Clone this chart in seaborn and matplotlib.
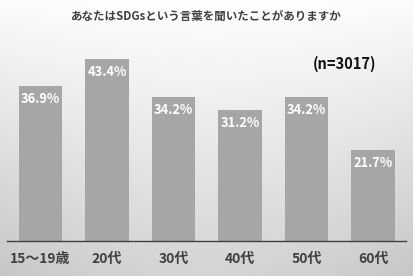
import numpy as np
import pandas as pd
import matplotlib
matplotlib.use("Agg")
import matplotlib.pyplot as plt
import seaborn as sns

categories = ["15～19歳", "20代", "30代", "40代", "50代", "60代"]
values = [36.9, 43.4, 34.2, 31.2, 34.2, 21.7]
value_labels = ["36.9%", "43.4%", "34.2%", "31.2%", "34.2%", "21.7%"]
title = "あなたはSDGsという言葉を聞いたことがありますか"
note = "(n=3017)"

sns.set_theme(style="white")
plt.rcParams['font.family'] = ['Noto Sans CJK JP', 'DejaVu Sans']

fig = plt.figure(figsize=(4.14, 2.76), dpi=100)

# background gradient
bg = fig.add_axes([0, 0, 1, 1], zorder=-10)
yy = np.linspace(0, 1, 276)[:, None]
xx = np.linspace(-1, 1, 414)[None, :]
shade = 1.0 - 0.17 * yy - 0.04 * xx**2 * (0.3 + yy)
img = np.dstack([shade, shade, shade])
bg.imshow(img, aspect='auto', extent=[0, 1, 0, 1], origin='upper')
bg.set_axis_off()

ax = fig.add_axes([7.25/414, 1 - 241/276, (406.25 - 7.25)/414, 189/276])
ax.patch.set_alpha(0)
df = pd.DataFrame({"cat": categories, "val": values})
sns.barplot(data=df, x="cat", y="val", color="#a6a6a6", saturation=1,
            width=0.66, ax=ax, edgecolor="none")
ax.set_xlim(-0.5, 5.5)
ax.set_ylim(0, 45)
ax.set_xlabel("")
ax.set_ylabel("")
ax.set_yticks([])
for s in ["top", "right", "left"]:
    ax.spines[s].set_visible(False)
ax.spines["bottom"].set_color("#404040")
ax.spines["bottom"].set_linewidth(1.0)
ax.tick_params(axis="x", length=0, pad=8, labelsize=10, labelcolor="#404040")
for t in ax.get_xticklabels():
    t.set_fontweight("bold")

for i, (v, lab) in enumerate(zip(values, value_labels)):
    ax.text(i, v - 1.4, lab, ha="center", va="top", color="white",
            fontsize=9.3, fontweight="bold")

fig.text(206/414, 1 - 16/276, title, ha="center", va="center",
         fontsize=8.3, fontweight="bold", color="#404040")
fig.text(345/414, 1 - 64/276, note, ha="center", va="center",
         fontsize=10.5, fontweight="bold", color="#111111")

fig.savefig("out.png", dpi=100)
